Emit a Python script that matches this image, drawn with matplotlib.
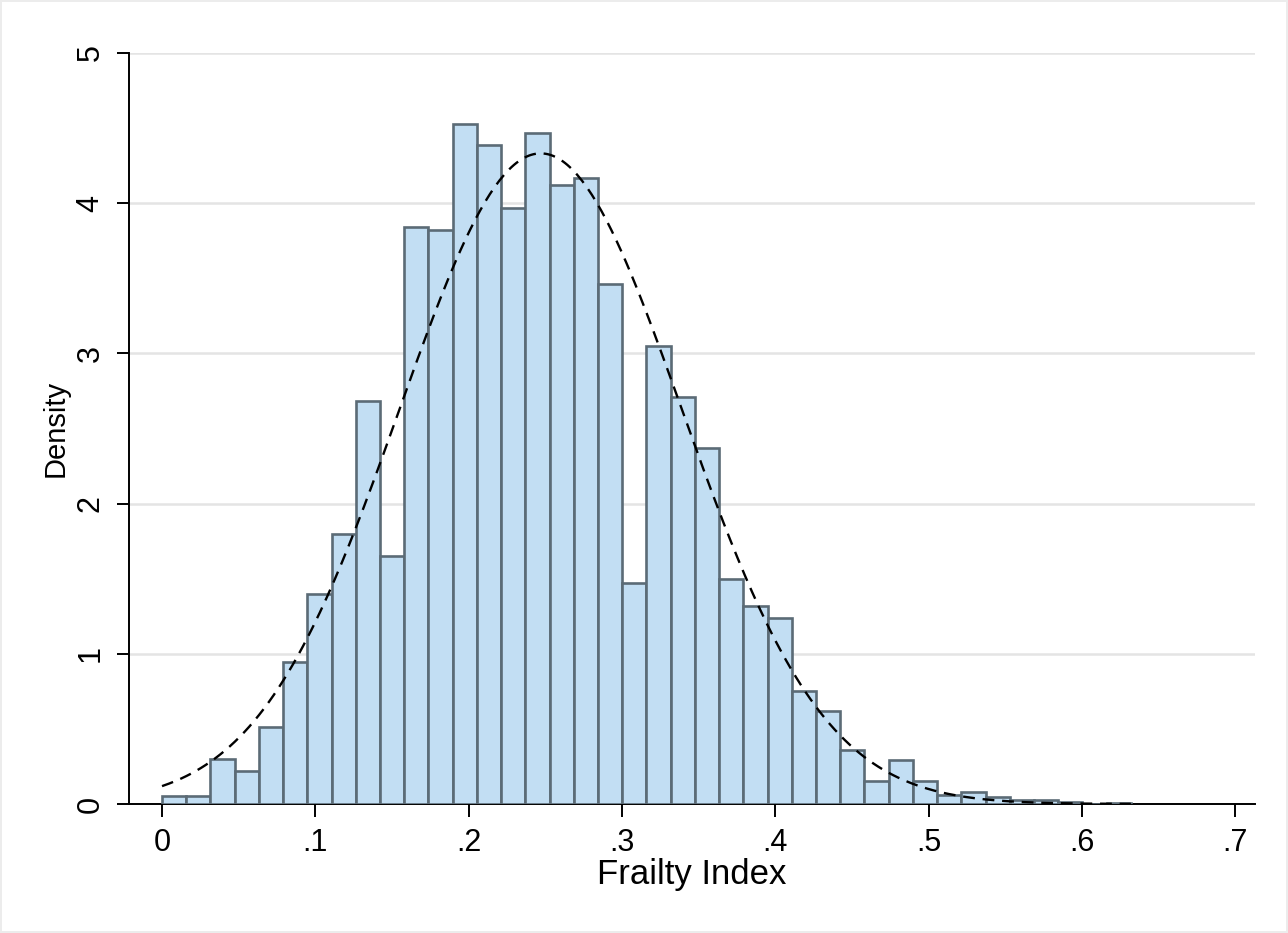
import numpy as np
import matplotlib.pyplot as plt

# Frailty Index histogram (density scale), 40 bins starting at 0
bin_start = 0.0
bin_width = 0.0158
density = [
    0.055, 0.055, 0.30, 0.22, 0.51, 0.945, 1.40, 1.80, 2.68, 1.65,
    3.84, 3.82, 4.53, 4.39, 3.97, 4.47, 4.12, 4.17, 3.46, 1.47,
    3.05, 2.71, 2.37, 1.50, 1.32, 1.24, 0.75, 0.62, 0.36, 0.155,
    0.29, 0.155, 0.06, 0.078, 0.047, 0.027, 0.027, 0.015, 0.0, 0.007,
]

# fitted normal overlay
norm_mean = 0.247
norm_sd = 0.0921

x_ticks = [0, 0.1, 0.2, 0.3, 0.4, 0.5, 0.6, 0.7]
x_tick_labels = ["0", ".1", ".2", ".3", ".4", ".5", ".6", ".7"]
y_ticks = [0, 1, 2, 3, 4, 5]

plt.rcParams["font.family"] = ["Liberation Sans", "DejaVu Sans"]

fig = plt.figure(figsize=(12.88, 9.33), dpi=100)
fig.patch.set_edgecolor("#ececec")
fig.patch.set_linewidth(1.5)
ax = fig.add_axes([0.1002, 0.1383, 0.8742, 0.8049])

edges = bin_start + bin_width * np.arange(len(density))
ax.bar(edges, density, width=bin_width, align="edge",
       color="#c2def3", edgecolor="#5b6b76", linewidth=1.9, zorder=3)

xs = np.linspace(0, 0.632, 400)
ys = np.exp(-0.5 * ((xs - norm_mean) / norm_sd) ** 2) / (norm_sd * np.sqrt(2 * np.pi))
ax.plot(xs, ys, color="black", linestyle=(0, (5, 3.3)), linewidth=1.7, zorder=4)

ax.set_xlim(-0.0215, 0.713)
ax.set_ylim(0, 5)
ax.set_xticks(x_ticks)
ax.set_xticklabels(x_tick_labels)
ax.set_yticks(y_ticks)
ax.set_yticklabels([str(v) for v in y_ticks], rotation=90, va="center")

ax.grid(axis="y", color="#e4e4e4", linewidth=1.8, zorder=0)
ax.set_axisbelow(True)
for side in ["top", "right"]:
    ax.spines[side].set_visible(False)
for side in ["left", "bottom"]:
    ax.spines[side].set_linewidth(1.4)
    ax.spines[side].set_color("black")

ax.tick_params(axis="both", length=9, width=1.4, labelsize=22, pad=8)
ax.set_xlabel("Frailty Index", fontsize=25, labelpad=0)
ax.set_ylabel("Density", fontsize=21, labelpad=4)

fig.savefig("out.png", dpi=100, edgecolor=fig.get_edgecolor())
